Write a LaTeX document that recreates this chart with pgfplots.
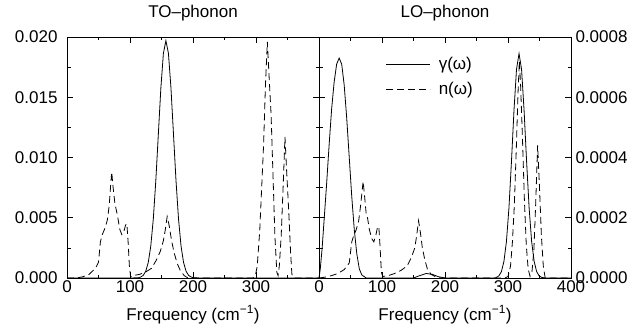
\documentclass[border=0pt]{standalone}
\usepackage{fontspec}
\setmainfont{Liberation Sans}
\usepackage{pgfplots}
\usepackage{pgfplotstable}
\pgfplotsset{compat=1.18}

\pgfplotstableread{
x y
0 0
100 0
113 0.00002
117 0.00008
121 0.00022
125 0.00056
129 0.00129
133 0.00266
137 0.00491
141 0.00810
145 0.01195
149 0.01578
153 0.01864
157 0.0197
161 0.01864
165 0.01578
169 0.01195
173 0.00810
177 0.00491
181 0.00266
185 0.00129
189 0.00056
193 0.00022
197 0.00008
201 0.00002
210 0
400 0
}\TOgamma

\pgfplotstableread{
x y
0 0
15 0
25 0.0001
35 0.0003
45 0.0008
50 0.0013
53 0.0030
56 0.0036
60 0.0041
64 0.0048
67 0.0060
69 0.0075
71 0.0088
73 0.0076
76 0.0062
80 0.0052
84 0.0040
87 0.0036
90 0.0038
93 0.0044
95 0.0045
97 0.0030
99 0.0010
101 0.0001
105 0.0002
115 0.0003
125 0.0005
134 0.0008
142 0.0015
148 0.0022
153 0.0031
156 0.0040
159 0.0051
162 0.0044
166 0.0031
170 0.0021
175 0.0012
180 0.0006
186 0.0002
192 0
295 0
299 0.0002
302 0.0010
306 0.0040
309 0.0075
312 0.0110
315 0.0160
318 0.0196
321 0.0165
324 0.0135
327 0.0085
330 0.0035
333 0.0005
335 0.0002
337 0.0010
340 0.0035
343 0.0075
346 0.0117
349 0.0085
352 0.0055
355 0.0020
357 0.0003
360 0
400 0
}\TOn

\pgfplotstableread{
x y
0 0
2 0.00003
5 0.00010
8 0.00019
12 0.00031
16 0.00044
20 0.00056
24 0.00065
28 0.00071
32 0.00073
36 0.00071
40 0.00064
44 0.00053
48 0.00040
52 0.00027
56 0.00016
60 0.00008
64 0.00003
68 0.00001
75 0
150 0
160 0.000008
170 0.000015
180 0.000012
190 0.000004
200 0
280 0
281.5 0.000002
285.5 0.000007
289.5 0.000021
293.5 0.000055
297.5 0.000121
301.5 0.000233
305.5 0.000387
309.5 0.000557
313.5 0.000693
317.5 0.000745
321.5 0.000693
325.5 0.000557
329.5 0.000387
333.5 0.000233
337.5 0.000121
341.5 0.000055
345.5 0.000021
349.5 0.000007
353.5 0.000002
360 0
400 0
}\LOgamma

\pgfplotstableread{
x y
0 0
10 0.000003
20 0.000008
30 0.000015
40 0.000028
48 0.00005
52 0.00012
55 0.00014
59 0.00016
63 0.00019
66 0.00024
68 0.00028
70 0.00032
72 0.00028
75 0.00021
77 0.00020
80 0.00016
84 0.00013
87 0.00012
90 0.00014
93 0.00017
95 0.00017
97 0.00010
99 0.00002
101 0.000005
110 0.000008
120 0.000015
130 0.000025
140 0.00004
147 0.00007
152 0.00010
155 0.00014
158 0.00019
161 0.00015
164 0.00010
168 0.00006
172 0.00003
178 0.000012
185 0.000004
192 0
295 0
300 0.000005
304 0.00004
307 0.00012
310 0.00024
313 0.00042
316 0.00062
318 0.00072
320 0.00064
323 0.00046
326 0.00026
329 0.00011
332 0.00003
335 0.000005
338 0.00002
341 0.00009
344 0.00025
347 0.00044
350 0.00030
353 0.00014
356 0.00004
359 0
400 0
}\LOn

\pgfplotsset{
  common/.style={
    scale only axis, width=252bp, height=241bp,
    xmin=0, xmax=400, ymin=0,
    xtick={0,100,200,300,400}, minor x tick num=1,
    minor y tick num=1,
    tick align=inside, major tick length=6bp, minor tick length=3.5bp,
    every tick/.style={line width=0.6bp, black},
    axis line style={line width=0.8bp},
    font=\fontsize{17bp}{20bp}\selectfont,
    /pgf/number format/assume math mode=true,
    scaled y ticks=false,
    xticklabel style={anchor=base, yshift=-14bp},
    xlabel={Frequency (cm\textsuperscript{−1})},
    xlabel style={at={(0.5,0)}, anchor=base, yshift=-42bp},
    title style={at={(0.5,1)}, anchor=base, yshift=14bp},
    clip=false,
  },
  gam/.style={black, line width=0.8bp},
  nn/.style={black, line width=0.8bp, dash pattern=on 7bp off 4bp},
}

\begin{document}
\begin{tikzpicture}[x=1bp,y=1bp]
\path[use as bounding box] (0,0) rectangle (637,335);
\begin{axis}[common,
  at={(67bp,57bp)}, anchor=south west,
  ymax=0.020,
  ytick={0,0.005,0.010,0.015,0.020},
  yticklabels={0.000,0.005,0.010,0.015,0.020},
  yticklabel style={anchor=east, xshift=-6bp},
  xticklabels={0,100,200,300,{}},
  title={TO–phonon},
]
\addplot[gam] table[x=x,y=y] {\TOgamma};
\addplot[nn] table[x=x,y=y] {\TOn};
\end{axis}
\begin{axis}[common,
  at={(319bp,57bp)}, anchor=south west,
  ymax=0.0008,
  ytick={0,0.0002,0.0004,0.0006,0.0008},
  yticklabels={0.0000,0.0002,0.0004,0.0006,0.0008},
  yticklabel pos=right,
  yticklabel style={anchor=west, xshift=1bp},
  xticklabels={0,100,200,300,400},
  title={LO–phonon},
  legend style={draw=none, fill=none, at={(0.265,0.925)}, anchor=north west,
    inner sep=0pt, row sep=7bp, font=\fontsize{17bp}{20bp}\selectfont},
  legend cell align=left,
  legend image code/.code={\draw[#1] (0bp,0bp) -- (44bp,0bp); \path (50bp,0bp);},
]
\addplot[gam] table[x=x,y=y] {\LOgamma};
\addlegendentry{γ(ω)}
\addplot[nn] table[x=x,y=y] {\LOn};
\addlegendentry{n(ω)}
\end{axis}
\end{tikzpicture}
\end{document}
